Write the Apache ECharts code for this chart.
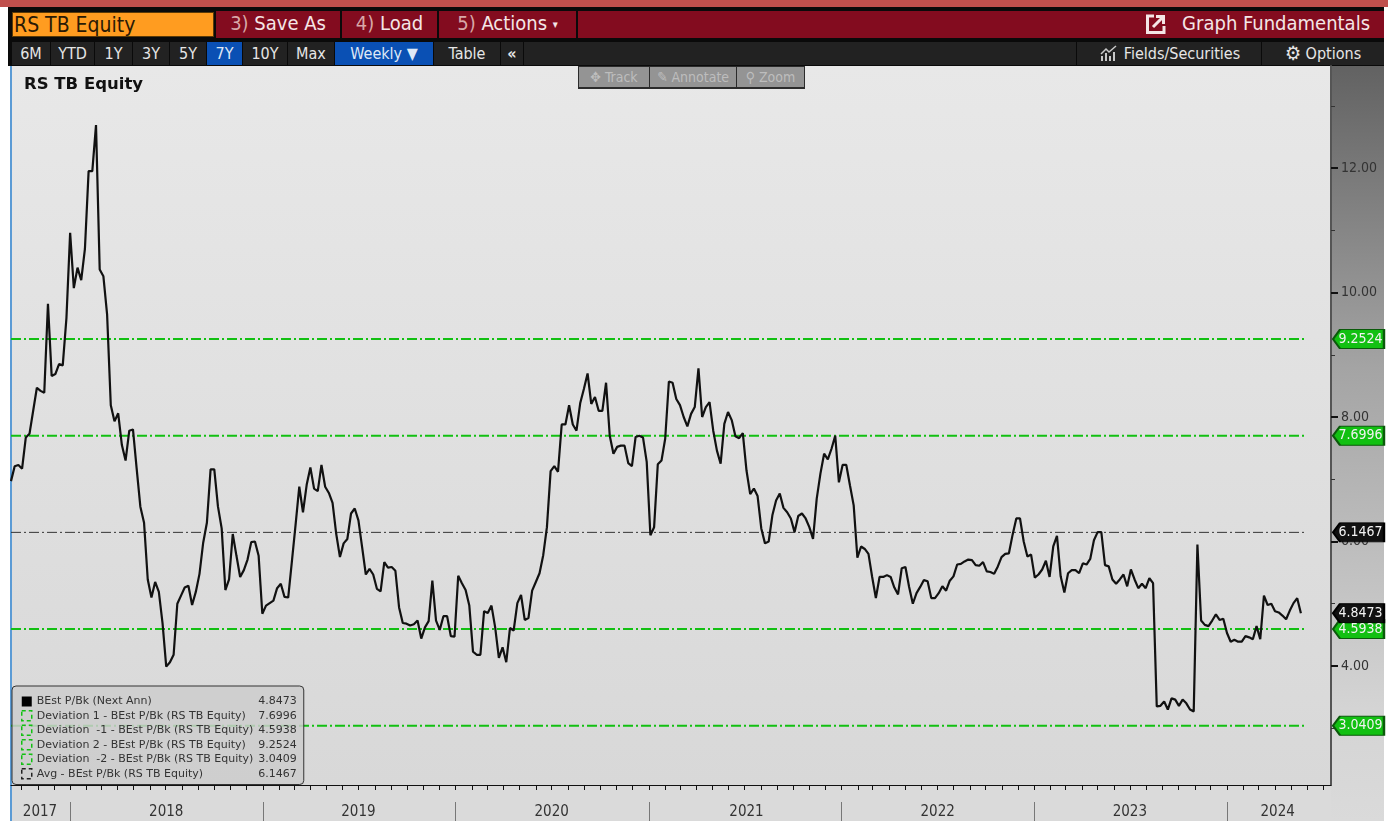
<!DOCTYPE html>
<html>
<head>
<meta charset="utf-8">
<title>RS TB Equity</title>
<script src="https://cdn.jsdelivr.net/npm/echarts@6/dist/echarts.min.js"></script>
<style>
html, body { margin: 0; padding: 0; background: #fff; overflow: hidden; }
#page { position: relative; width: 1388px; height: 821px; overflow: hidden; font-family: "DejaVu Sans Condensed", "DejaVu Sans", sans-serif; font-stretch: condensed; }
#page div { position: absolute; box-sizing: border-box; white-space: nowrap; }
#main { left: 0; top: 0; width: 1388px; height: 821px; }
.top { top: 11px; height: 27px; line-height: 25px; font-size: 20px; color: #f4e6e6; background: #830c1f; text-align: center; }
.top i { font-style: normal; color: #d8a8a8; }
.bar { top: 42px; height: 23px; line-height: 23px; font-size: 16px; color: #e6e6e6; background: #222; text-align: center; }
.on { background: #0a50b4; color: #dfe8f6; }
.tool { top: 67px; height: 20px; line-height: 20px; font-size: 14px; color: #bdbdbd; background: #949494; text-align: center; }
</style>
</head>
<body>
<div id="page">
  <div style="left:0;top:0;width:1388px;height:7px;background:#c0504d"></div>
  <div style="left:8px;top:7px;width:1376px;height:59px;background:#0a0a0a"></div>

  <div style="left:12px;top:12px;width:202px;height:25px;line-height:24px;background:#ff9c20;color:#2a1a05;font-size:21px;padding-left:1px;border:1px solid #5a3a08">RS TB Equity</div>
  <div class="top" style="left:216px;width:124px"><i>3)</i> Save As</div>
  <div class="top" style="left:342px;width:95px"><i>4)</i> Load</div>
  <div class="top" style="left:439px;width:137px"><i>5)</i> Actions <span style="font-size:11px;vertical-align:2px">▾</span></div>
  <div class="top" style="left:578px;width:806px;text-align:right;padding-right:14px"><svg width="20" height="20" viewBox="0 0 20 20" style="position:absolute;left:568px;top:3px"><path d="M8 2H1.5V18.5H18V12" fill="none" stroke="#f4e6e6" stroke-width="3"/><path d="M7 13L16 4M10 2.500H17.500V10" fill="none" stroke="#f4e6e6" stroke-width="3"/></svg>Graph Fundamentals</div>

  <div class="bar" style="left:12px;width:38px">6M</div>
  <div class="bar" style="left:51px;width:43px">YTD</div>
  <div class="bar" style="left:95px;width:37px">1Y</div>
  <div class="bar" style="left:133px;width:36px">3Y</div>
  <div class="bar" style="left:170px;width:36px">5Y</div>
  <div class="bar on" style="left:207px;width:35px">7Y</div>
  <div class="bar" style="left:243px;width:44px">10Y</div>
  <div class="bar" style="left:288px;width:46px">Max</div>
  <div class="bar on" style="left:335px;width:98px">Weekly ▼</div>
  <div class="bar" style="left:434px;width:66px">Table</div>
  <div class="bar" style="left:501px;width:22px;font-weight:bold">«</div>
  <div class="bar" style="left:524px;width:552px"></div>
  <div class="bar" style="left:1077px;width:184px"><svg width="18" height="16" viewBox="0 0 18 16" style="position:absolute;left:23px;top:3px"><path d="M1 9L6 4L9 7L16 1" fill="none" stroke="#c8c8c8" stroke-width="1.500"/><path d="M2 11V16M6 8V16M10 11V16M14 7V16" stroke="#c8c8c8" stroke-width="2"/></svg><span style="margin-left:26px">Fields/Securities</span></div>
  <div class="bar" style="left:1262px;width:122px"><span style="font-size:20px;line-height:20px;vertical-align:-1px">⚙</span> Options</div>

  <div style="left:0;top:66px;width:10px;height:755px;background:#fff"></div>
  <div style="left:10px;top:66px;width:2px;height:755px;background:#5b9bd5"></div>
  <div style="left:12px;top:66px;width:1319px;height:719px;background:linear-gradient(#e8e8e8,#d8d8d8)"></div>
  <div style="left:12px;top:785px;width:1319px;height:36px;background:#dadada"></div>
  <div style="left:1331px;top:66px;width:53px;height:755px;background:linear-gradient(#626262 0%,#a4a4a4 40%,#d4d4d4 85%,#dadada 100%)"></div>

  <div id="main"></div>

  <div style="left:578px;top:66px;width:227px;height:23px;background:#2b2b2b"></div>
  <div class="tool" style="left:579px;width:70px">✥ Track</div>
  <div class="tool" style="left:650px;width:86px">✎ Annotate</div>
  <div class="tool" style="left:737px;width:67px">⚲ Zoom</div>
</div>
<script>
// BEst P/Bk, one weekly reading, split by calendar year
var values2017 = [6.97,7.21,7.23,7.17,7.67,7.73,8.10,8.47,8.42,8.39,9.82,8.66,8.69,8.85,8.83,9.59];
var values2018 = [10.96,10.07,10.40,10.20,10.70,11.95,11.95,12.69,10.37,10.26,9.65,8.19,7.93,8.06,7.55,7.30,7.78,7.80,7.17,6.56,6.30,5.39,5.10,5.35,5.19,4.69,3.99,4.06,4.18,5.00,5.13,5.26,5.29,4.98,5.19,5.48,5.98,6.30,7.16,7.16,6.56,6.21,5.22,5.39,6.12,5.77,5.43,5.54,5.71,5.99,6.00,5.77,4.84];
var values2019 = [4.97,5.01,5.05,5.25,5.32,5.11,5.10,5.68,6.27,6.88,6.47,6.91,7.19,6.85,6.81,7.23,6.88,6.78,6.62,6.12,5.75,5.97,6.04,6.45,6.53,6.34,5.91,5.47,5.56,5.47,5.24,5.20,5.67,5.58,5.59,5.53,4.94,4.69,4.68,4.65,4.67,4.73,4.44,4.62,4.72,5.37,4.73,4.58,4.80,4.80,4.48,4.47];
var values2020 = [5.45,5.33,5.22,4.97,4.23,4.18,4.18,4.88,4.85,4.97,4.62,4.13,4.30,4.06,4.61,4.57,5.01,5.14,4.74,4.77,5.21,5.35,5.49,5.78,6.23,7.13,7.21,7.12,7.88,7.88,8.19,7.88,7.78,8.22,8.45,8.70,8.21,8.32,8.10,8.10,8.55,7.70,7.41,7.52,7.54,7.54,7.26,7.21,7.68,7.70,7.67,7.28];
var values2021 = [6.10,6.23,7.24,7.30,7.65,8.57,8.55,8.29,8.19,8.00,7.85,8.05,8.16,8.78,8.00,8.16,8.24,7.78,7.46,7.25,7.89,8.08,7.95,7.69,7.66,7.74,7.14,6.76,6.85,6.73,6.21,5.97,6.00,6.42,6.66,6.77,6.54,6.47,6.37,6.15,6.41,6.45,6.37,6.23,6.04,6.69,7.09,7.41,7.32,7.49,7.70,6.95];
var values2022 = [7.23,7.23,6.90,6.58,5.74,5.92,5.88,5.80,5.43,5.09,5.43,5.43,5.46,5.43,5.26,5.15,5.57,5.59,5.27,5.00,5.17,5.27,5.38,5.36,5.09,5.09,5.17,5.28,5.21,5.37,5.44,5.63,5.64,5.68,5.71,5.70,5.62,5.61,5.67,5.52,5.51,5.48,5.60,5.75,5.80,5.81,6.11,6.37,6.37,6.00,5.76,5.79];
var values2023 = [5.42,5.47,5.55,5.69,5.43,5.92,6.09,5.44,5.18,5.49,5.54,5.54,5.49,5.65,5.63,5.72,6.02,6.15,6.15,5.62,5.60,5.39,5.32,5.39,5.47,5.28,5.55,5.39,5.25,5.32,5.25,5.41,5.33,3.35,3.36,3.43,3.30,3.48,3.46,3.36,3.46,3.40,3.30,3.27,5.95,4.73,4.66,4.64,4.73,4.83,4.74,4.76];
var values2024 = [4.53,4.39,4.42,4.39,4.39,4.48,4.46,4.43,4.64,4.43,5.13,4.98,5.00,4.88,4.86,4.81,4.75,4.89,5.01,5.09,4.8473];

var mainName = 'BEst P/Bk (Next Ann)';
var levelNames = ['Deviation 1 - BEst P/Bk (RS TB Equity)', 'Deviation  -1 - BEst P/Bk (RS TB Equity)', 'Deviation 2 - BEst P/Bk (RS TB Equity)', 'Deviation  -2 - BEst P/Bk (RS TB Equity)', 'Avg - BEst P/Bk (RS TB Equity)'];
var levelValues = [7.6996, 4.5938, 9.2524, 3.0409, 6.1467];
var lastValue = 4.8473;

var firstWeek = '2017-09-11';
var axisEnd = '2024-07-16';
var levelEnd = '2024-05-27';
var yMin = 2.088, yMax = 13.639;
var yTicks = [4, 6, 8, 10, 12];
var ySmallTicks = [3, 5, 7, 9, 11, 13];
var yearStarts = ['2018-01-01', '2019-01-01', '2020-01-01', '2021-01-01', '2022-01-01', '2023-01-01', '2024-01-01'];
var yearLabelDates = ['2017-11-05', '2018-07-02', '2019-07-01', '2020-07-01', '2021-07-05', '2022-07-02', '2023-07-01', '2024-04-06'];

// x axis is a plain value axis on timestamps: custom ticks break on a time axis
function ts(s) { return new Date(s + 'T00:00:00Z').getTime(); }

var values = [].concat(values2017, values2018, values2019, values2020, values2021, values2022, values2023, values2024);
var DAY = 86400000;
var mainData = [];
for (var i = 0; i < values.length; i++) {
    mainData.push([ts(firstWeek) + i * 7 * DAY, values[i]]);
}

// month ticks along the bottom
var monthTicks = [];
for (var y = 2017; y <= 2024; y++) {
    for (var m = 0; m < 12; m++) {
        monthTicks.push(Date.UTC(y, m, 1));
    }
}

var GREEN = '#12c012';
var tagPath = 'path://M0,10 L7,0 L51,0 L51,20 L7,20 Z';

function tag(value, fill, border) {
    return {
        silent: true,
        symbol: tagPath,
        symbolSize: [51, 19],
        symbolOffset: [27.5, 0],
        itemStyle: { color: fill, borderColor: border, borderWidth: 1.5 },
        label: {
            show: true, position: 'inside', offset: [2, 0],
            color: '#f2f2f2', fontSize: 14, fontFamily: 'DejaVu Sans Condensed',
            formatter: function (p) { return p.value.toFixed(4); }
        },
        data: [{ coord: [ts(axisEnd), value], value: value }]
    };
}

var series = [];
levelNames.forEach(function (name, k) {
    var isAvg = k === 4;
    var v = levelValues[k];
    series.push({
        name: name,
        type: 'line',
        showSymbol: false,
        silent: true,
        lineStyle: { color: isAvg ? '#333' : GREEN, width: isAvg ? 1 : 2, type: [10, 3, 2, 3] },
        data: [[ts(firstWeek), v], [ts(levelEnd), v]],
        z: 3,
        markPoint: isAvg ? tag(v, '#111', '#000') : tag(v, GREEN, '#0b5a0b')
    });
});
series.push({
    name: mainName,
    type: 'line',
    showSymbol: false,
    silent: true,
    lineStyle: { color: '#111', width: 2.2 },
    data: mainData,
    z: 4,
    markPoint: tag(lastValue, '#111', '#000')
});

var legendData = [{ name: mainName, itemStyle: { color: '#000', borderWidth: 0 } }];
levelNames.forEach(function (name, k) {
    legendData.push({
        name: name,
        itemStyle: { color: 'transparent', borderColor: k === 4 ? '#222' : GREEN, borderWidth: 1.5, borderType: [4, 3] }
    });
});

function legendValue(name) {
    if (name === mainName) return lastValue.toFixed(4);
    return levelValues[levelNames.indexOf(name)].toFixed(4);
}

var myChart = echarts.init(document.getElementById('main'));
var option = {
    animation: false,
    backgroundColor: 'transparent',
    title: {
        text: 'RS TB Equity',
        left: 19, top: 71,
        textStyle: { fontFamily: 'DejaVu Sans', fontSize: 16.5, fontWeight: 'bold', color: '#111' }
    },
    grid: { left: 11, top: 66, width: 1320, height: 719 },
    legend: {
        orient: 'vertical',
        left: 12, top: 686,
        padding: [10, 7, 5, 9],
        selectedMode: false,
        icon: 'rect',
        itemWidth: 10, itemHeight: 10,
        itemGap: 3,
        backgroundColor: 'rgba(205,205,205,0.85)',
        borderColor: '#333',
        borderWidth: 1,
        borderRadius: 4,
        data: legendData,
        formatter: function (name) {
            return '{n|' + name + '}{v|' + legendValue(name) + '}';
        },
        textStyle: {
            rich: {
                n: { width: 225, fontFamily: 'DejaVu Sans', fontSize: 11, color: '#333', lineHeight: 11 },
                v: { width: 35, align: 'right', fontFamily: 'DejaVu Sans', fontSize: 11, color: '#333', lineHeight: 11 }
            }
        }
    },
    xAxis: [{
        type: 'value',
        min: ts(firstWeek), max: ts(axisEnd),
        splitLine: { show: false },
        axisLine: { show: true, onZero: false, lineStyle: { color: '#111', width: 1 } },
        axisTick: { show: true, length: 5, customValues: monthTicks, lineStyle: { color: '#111' } },
        axisLabel: {
            customValues: yearLabelDates.map(ts),
            margin: 20,
            showMinLabel: true, showMaxLabel: true,
            color: '#333', fontSize: 15, fontFamily: 'DejaVu Sans Condensed',
            formatter: function (v) { return String(new Date(v).getUTCFullYear()); }
        }
    }, {
        // year separators under the labels' row
        type: 'value',
        min: ts(firstWeek), max: ts(axisEnd),
        position: 'bottom',
        offset: 17,
        splitLine: { show: false },
        axisLine: { show: false },
        axisTick: { show: true, length: 19, customValues: yearStarts.map(ts), lineStyle: { color: '#777' } },
        axisLabel: { show: false }
    }],
    yAxis: [{
        type: 'value',
        position: 'right',
        min: yMin, max: yMax,
        splitLine: { show: false },
        axisLine: { show: true, lineStyle: { color: '#555', width: 2 } },
        axisTick: { show: true, length: 7, customValues: yTicks, lineStyle: { color: '#111', width: 2 } },
        axisLabel: {
            customValues: yTicks,
            margin: 10,
            color: '#333', fontSize: 14, fontFamily: 'DejaVu Sans Condensed',
            formatter: function (v) { return v.toFixed(2); }
        }
    }, {
        type: 'value',
        position: 'right',
        min: yMin, max: yMax,
        splitLine: { show: false },
        axisLine: { show: false },
        axisTick: { show: true, length: 4, customValues: ySmallTicks, lineStyle: { color: '#333' } },
        axisLabel: { show: false }
    }],
    series: series
};
myChart.setOption(option);
</script>
</body>
</html>
